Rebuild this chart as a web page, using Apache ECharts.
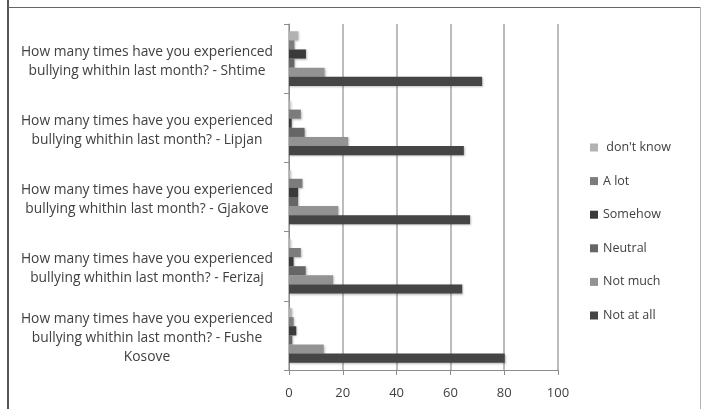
<!DOCTYPE html>
<html>
<head>
<meta charset="utf-8">
<script src="https://cdn.jsdelivr.net/npm/echarts@6/dist/echarts.min.js"></script>
<style>html,body{margin:0;padding:0;background:#fff}#c{width:701px;height:409px}</style>
</head>
<body>
<div id="c"></div>
<script>
var categories = [
  "How many times have you experienced\nbullying whithin last month? - Fushe\nKosove",
  "How many times have you experienced\nbullying whithin last month? - Ferizaj",
  "How many times have you experienced\nbullying whithin last month? - Gjakove",
  "How many times have you experienced\nbullying whithin last month? - Lipjan",
  "How many times have you experienced\nbullying whithin last month? - Shtime"
];
var seriesNames = [" don't know", "A lot", "Somehow", "Neutral", "Not much", "Not at all"];
var dontKnow = [1, 0.5, 0.5, 0.5, 3.4];
var aLot     = [1.7, 4.4, 5, 4.4, 2];
var somehow  = [2.7, 1.7, 3.4, 1, 6.3];
var neutral  = [1.2, 6.2, 3.4, 5.8, 2];
var notMuch  = [12.9, 16.4, 18.3, 22, 13.2];
var notAtAll = [80.2, 64.4, 67.3, 65, 71.8];
var xTicks = [0, 20, 40, 60, 80, 100];

var values = [dontKnow, aLot, somehow, neutral, notMuch, notAtAll];
var colors = ["#b2b2b2", "#7c7c7c", "#3a3a3a", "#666666", "#939393", "#454545"];

var chart = echarts.init(document.getElementById('c'));
var series = seriesNames.map(function (n, i) {
  return {
    name: n,
    type: 'bar',
    data: values[i],
    barGap: '0%',
    barCategoryGap: '21%',
    itemStyle: {
      color: colors[i],
      shadowColor: 'rgba(0,0,0,0.25)',
      shadowBlur: 2,
      shadowOffsetX: 1,
      shadowOffsetY: 1
    }
  };
});

chart.setOption({
  animation: false,
  backgroundColor: '#ffffff',
  textStyle: { fontFamily: 'Open Sans' },
  grid: { left: 289, right: 143, top: 24, bottom: 39 },
  legend: {
    orient: 'vertical',
    left: 585,
    top: 136,
    itemWidth: 8,
    itemHeight: 8,
    itemGap: 20.6,
    icon: 'rect',
    textStyle: { fontFamily: 'Open Sans', fontSize: 12.5, color: '#404040' },
    data: seriesNames
  },
  xAxis: {
    type: 'value',
    min: 0,
    max: 100,
    interval: 20,
    axisLine: { show: true, lineStyle: { color: '#8c8c8c', width: 1 } },
    axisTick: { show: true, length: 5, lineStyle: { color: '#8c8c8c' } },
    axisLabel: { fontFamily: 'Open Sans', fontSize: 13, color: '#404040', margin: 17,
      formatter: function (v) { return xTicks.indexOf(v) >= 0 ? String(v) : ''; } },
    splitLine: { show: true, lineStyle: { color: '#a6a6a6', width: 1.5 } }
  },
  yAxis: {
    type: 'category',
    data: categories,
    axisLine: { show: true, lineStyle: { color: '#8c8c8c', width: 1 } },
    axisTick: { show: true, length: 5, lineStyle: { color: '#8c8c8c' } },
    axisLabel: {
      align: 'center',
      margin: 142,
      formatter: function (v) {
        return '{p| }\n' + v.split('\n').map(function (s) { return '{a|' + s + '}'; }).join('\n');
      },
      rich: {
        p: { lineHeight: 5, fontSize: 4 },
        a: { fontFamily: 'Open Sans', fontSize: 13.8, color: '#404040', lineHeight: 19, align: 'center' }
      }
    }
  },
  graphic: [
    { type: 'line', shape: { x1: 8, y1: 0, x2: 8, y2: 409 }, style: { stroke: '#555555', lineWidth: 2 } },
    { type: 'line', shape: { x1: 8, y1: 7.5, x2: 700, y2: 7.5 }, style: { stroke: '#666666', lineWidth: 1 } },
    { type: 'line', shape: { x1: 700.5, y1: 7, x2: 700.5, y2: 409 }, style: { stroke: '#b5b5b5', lineWidth: 1 } }
  ],
  series: series
});
</script>
</body>
</html>
